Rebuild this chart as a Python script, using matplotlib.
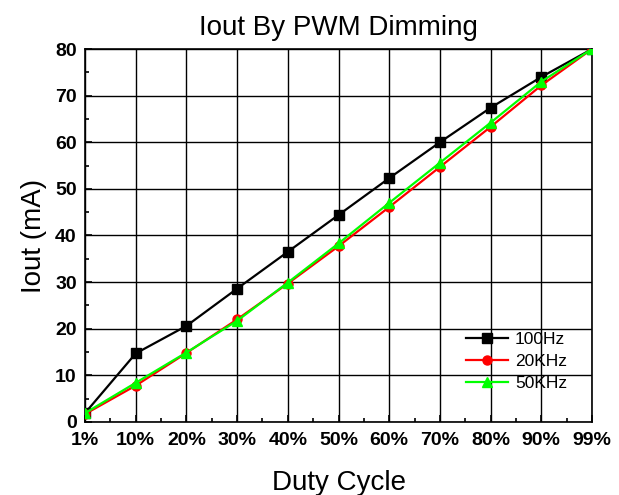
import matplotlib
matplotlib.use("Agg")
import matplotlib.pyplot as plt
from matplotlib.ticker import MultipleLocator

plt.rcParams["font.family"] = ["Liberation Sans", "DejaVu Sans"]

duty = ["1%", "10%", "20%", "30%", "40%", "50%", "60%", "70%", "80%", "90%", "99%"]
iout_100hz = [1.9, 14.7, 20.6, 28.6, 36.5, 44.4, 52.3, 60.0, 67.4, 74.0, 80.0]
iout_20khz = [1.7, 7.8, 14.8, 22.0, 29.7, 37.7, 46.1, 54.7, 63.3, 72.2, 80.0]
iout_50khz = [1.9, 8.4, 14.9, 21.7, 29.9, 38.3, 47.0, 55.6, 64.2, 73.0, 80.0]

fig = plt.figure(figsize=(6.19, 4.95), dpi=100)
ax = fig.add_axes([0.1373, 0.1475, 0.8191, 0.7535])

x = list(range(len(duty)))
ax.plot(x, iout_100hz, color="black", marker="s", markersize=6.5, lw=1.6, label="100Hz", zorder=3)
ax.plot(x, iout_20khz, color="#ff0000", marker="o", markersize=6.5, lw=1.6, label="20KHz", zorder=4)
ax.plot(x, iout_50khz, color="#00ff00", marker="^", markersize=7.5, lw=1.6, label="50KHz", zorder=5)

ax.set_xlim(0, 10)
ax.set_ylim(0, 80)
ax.set_xticks(x)
ax.set_xticklabels(duty)
ax.xaxis.set_minor_locator(MultipleLocator(0.5))
ax.yaxis.set_major_locator(MultipleLocator(10))
ax.yaxis.set_minor_locator(MultipleLocator(5))
ax.tick_params(which="both", direction="in", top=False, right=False, width=1.2)
ax.tick_params(which="major", length=5, labelsize=14)
ax.tick_params(axis="x", which="major", pad=7)
ax.tick_params(axis="y", which="major", pad=6)
ax.tick_params(which="minor", length=3)
for lab in ax.get_xticklabels() + ax.get_yticklabels():
    lab.set_fontweight("bold")
ax.grid(True, which="major", color="black", lw=1.0)
for s in ax.spines.values():
    s.set_linewidth(1.2)

ax.set_title("Iout By PWM Dimming", fontsize=20, pad=10)
ax.set_xlabel("Duty Cycle", fontsize=20, labelpad=15)
ax.set_ylabel("Iout (mA)", fontsize=20, labelpad=6)

leg = ax.legend(loc="lower right", bbox_to_anchor=(0.975, 0.05), frameon=False,
                fontsize=12.5, handlelength=2.4, labelspacing=0.4, borderpad=0.2,
                handletextpad=0.4)

fig.savefig("out.png", dpi=100)
